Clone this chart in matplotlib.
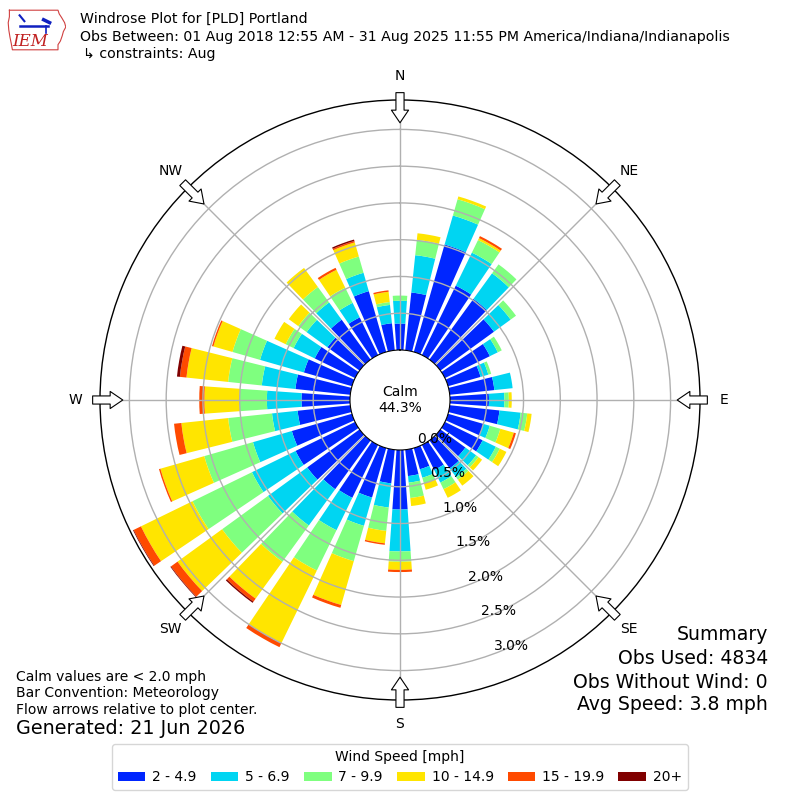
import numpy as np
import matplotlib
matplotlib.use("Agg")
from matplotlib import pyplot as plt
from matplotlib.patches import Patch
from matplotlib.transforms import offset_copy

# direction bins (deg, meteorological) and percent frequency per speed bin
directions = np.arange(0, 360, 10)
speed_labels = ["2 - 4.9", "5 - 6.9", "7 - 9.9", "10 - 14.9", "15 - 19.9", "20+"]
speed_colors = ["#0026ff", "#00d5f2", "#7fff7f", "#ffe500", "#ff4a00", "#800000"]

pct_2_5 = [0.36, 0.79, 1.52, 1.05, 1.02, 0.90, 0.68, 0.46, 0.61, 0.53, 0.68, 0.50,
           0.57, 0.42, 0.47, 0.38, 0.30, 0.36, 0.81, 0.46, 0.70, 0.80, 0.82, 0.88,
           0.90, 0.85, 0.72, 0.66, 0.75, 0.68, 0.61, 0.54, 0.67, 0.57, 0.86, 0.37]
pct_5_7 = [0.31, 0.51, 0.41, 0.50, 0.43, 0.28, 0.12, 0.11, 0.25, 0.21, 0.29, 0.09,
           0.20, 0.18, 0.15, 0.19, 0.12, 0.09, 0.57, 0.33, 0.40, 0.49, 0.61, 0.66,
           0.66, 0.55, 0.35, 0.47, 0.46, 0.62, 0.32, 0.35, 0.29, 0.22, 0.26, 0.25]
pct_7_10 = [0.07, 0.21, 0.23, 0.19, 0.15, 0.09, 0.06, 0.04, 0.00, 0.06, 0.09, 0.15,
            0.06, 0.04, 0.04, 0.10, 0.08, 0.21, 0.14, 0.32, 0.50, 0.61, 0.61, 0.77,
            0.90, 0.69, 0.60, 0.37, 0.46, 0.39, 0.12, 0.14, 0.26, 0.23, 0.23, 0.04]
pct_10_15 = [0.00, 0.09, 0.04, 0.03, 0.00, 0.00, 0.00, 0.00, 0.00, 0.04, 0.06, 0.19,
             0.10, 0.06, 0.10, 0.13, 0.09, 0.11, 0.11, 0.17, 0.62, 1.10, 0.62, 0.75,
             0.78, 0.62, 0.64, 0.48, 0.57, 0.27, 0.17, 0.16, 0.32, 0.27, 0.20, 0.14]
pct_15_20 = [0.00, 0.00, 0.00, 0.03, 0.00, 0.00, 0.00, 0.00, 0.00, 0.00, 0.00, 0.03,
             0.00, 0.00, 0.00, 0.00, 0.00, 0.00, 0.03, 0.02, 0.04, 0.06, 0.05, 0.11,
             0.11, 0.02, 0.10, 0.07, 0.09, 0.02, 0.00, 0.00, 0.00, 0.03, 0.02, 0.02]
pct_20p = [0.00, 0.00, 0.00, 0.00, 0.00, 0.00, 0.00, 0.00, 0.00, 0.00, 0.00, 0.00,
           0.00, 0.00, 0.00, 0.00, 0.00, 0.00, 0.00, 0.00, 0.00, 0.00, 0.02, 0.01,
           0.01, 0.00, 0.00, 0.00, 0.04, 0.00, 0.00, 0.00, 0.00, 0.00, 0.02, 0.00]
speed_bins = [pct_2_5, pct_5_7, pct_7_10, pct_10_15, pct_15_20, pct_20p]

calm_pct = 44.3
ring_values = [0.0, 0.5, 1.0, 1.5, 2.0, 2.5, 3.0]
compass = ["N", "NE", "E", "SE", "S", "SW", "W", "NW"]

fig = plt.figure(figsize=(8, 8), dpi=100)
ax = fig.add_axes([0.125, 0.125, 0.75, 0.75], projection="polar")
ax.set_theta_zero_location("N")
ax.set_theta_direction(-1)
ax.set_rorigin(-0.68)
ax.set_ylim(0, 3.40)

theta = np.radians(directions)
bottom = np.zeros(len(directions))
for vals, col in zip(speed_bins, speed_colors):
    vals = np.array(vals)
    ax.bar(theta, vals, width=np.radians(8), bottom=bottom, color=col,
           linewidth=0, align="center")
    bottom += vals

ax.set_yticks(ring_values[1:])
ax.set_yticklabels([])
ax.set_xticks(np.radians(np.arange(0, 360, 45)))
ax.set_xticklabels([])
ax.grid(True, color="#b0b0b0", linewidth=1.0)
ax.spines["polar"].set_linewidth(1.0)
ax.spines["inner"].set_visible(True)
ax.spines["inner"].set_color("black")

# ring labels
lab_tr = offset_copy(ax.transData, fig=fig, x=17.5, y=8, units="dots")
for rv in ring_values:
    ax.text(np.radians(159.7), rv, f"{rv:.1f}%", transform=lab_tr,
            ha="center", va="center", fontsize=10, zorder=5)

# compass arrows (pointing to the center) and labels
for i, name in enumerate(compass):
    ang = np.radians(i * 45)
    ax.annotate("", xy=(ang, 3.09), xytext=(ang, 3.50), annotation_clip=False,
                arrowprops=dict(arrowstyle="simple,head_length=0.7,head_width=0.95,tail_width=0.45",
                                fc="white", ec="black", lw=0.8, shrinkA=0, shrinkB=0,
                                mutation_scale=13))
    ax.text(ang, 3.73, name, ha="center", va="center", fontsize=10)

ax.text(0.5, 0.5, f"Calm\n{calm_pct:.1f}%", transform=ax.transAxes,
        ha="center", va="center", fontsize=10)

# header
fig.text(0.1, 1 - 19 / 800, "Windrose Plot for [PLD] Portland", fontsize=10.2, va="center")
fig.text(0.1, 1 - 37 / 800,
         "Obs Between: 01 Aug 2018 12:55 AM - 31 Aug 2025 11:55 PM America/Indiana/Indianapolis",
         fontsize=10.2, va="center")
fig.text(0.104, 1 - 54 / 800, "\u21b3 constraints: Aug", fontsize=10.2, va="center")

# logo (rough)
lax = fig.add_axes([0.008, 1 - 52 / 800, 0.075, 44 / 800])
lax.set_xlim(0, 100)
lax.set_ylim(0, 60)
lax.axis("off")
iowa_x = [5, 86, 88, 92, 97, 99, 95, 93, 90, 86, 86, 10, 8, 6, 4, 3, 5, 5]
iowa_y = [57, 57, 52, 47, 40, 34, 28, 22, 15, 10, 3, 3, 12, 20, 30, 40, 48, 57]
lax.plot(iowa_x, iowa_y, color="#d04040", lw=0.8)
lax.plot([22, 70], [36, 36], color="#1020c0", lw=1.8)
lax.plot([22, 30], [50, 42], color="#1020c0", lw=1.5)
lax.plot([62, 72], [44, 40], color="#1020c0", lw=2.5)
lax.plot([66, 66], [36, 26], color="#1020c0", lw=1.2)
lax.text(10, 14, "IEM", color="#c02020", fontsize=12, family="DejaVu Serif",
         style="italic", va="center")

# footer texts
fig.text(0.02, 1 - 677 / 800, "Calm values are < 2.0 mph", fontsize=10, va="center")
fig.text(0.02, 1 - 693 / 800, "Bar Convention: Meteorology", fontsize=10, va="center")
fig.text(0.02, 1 - 710 / 800, "Flow arrows relative to plot center.", fontsize=10, va="center")
fig.text(0.02, 1 - 729 / 800, "Generated: 21 Jun 2026", fontsize=13.8, va="center")

summary = ["Summary", "Obs Used: 4834", "Obs Without Wind: 0", "Avg Speed: 3.8 mph"]
for line, yy in zip(summary, [635, 659, 682, 705]):
    fig.text(0.96, 1 - yy / 800, line, fontsize=13.6, ha="right", va="center")

handles = [Patch(facecolor=c, edgecolor="none") for c in speed_colors]
fig.legend(handles, speed_labels, loc="lower center", bbox_to_anchor=(0.5, 0.0125),
           ncol=6, title="Wind Speed [mph]", fontsize=10, title_fontsize=10,
           borderaxespad=0, handletextpad=0.5, columnspacing=1.0)

fig.savefig("out.png", dpi=100)
